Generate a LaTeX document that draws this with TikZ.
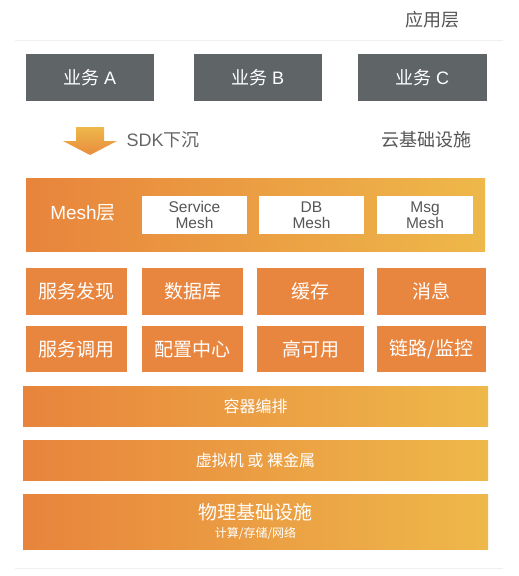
\documentclass[tikz,border=0pt]{standalone}
\usepackage{fontspec}
\setmainfont{Noto Sans CJK SC}
\newfontfamily\lat{Liberation Sans}
\usepackage{tikz}
\definecolor{bizgray}{HTML}{5F6466}
\definecolor{meshorange}{HTML}{E8843C}
\definecolor{meshyellow}{HTML}{EEB84A}
\definecolor{comporange}{HTML}{E8853E}
\definecolor{labelgray}{HTML}{555555}

\begin{document}
\begin{tikzpicture}
	[x=1pt, y=-1pt, align=center, text=white,
	biz/.style ={rectangle, fill=bizgray, minimum width=128pt, minimum height=47pt, font=\fontsize{18}{20}\selectfont},
	meshbox/.style ={rectangle, fill=white, text=labelgray, minimum width=105pt, minimum height=38pt, font=\lat\fontsize{15.5}{16}\selectfont},
	comp/.style ={rectangle, fill=comporange, minimum height=47pt, font=\fontsize{19}{21}\selectfont},
	band/.style ={rectangle, left color=meshorange, right color=meshyellow, minimum width=465pt, minimum height=40pt, font=\fontsize{16}{18}\selectfont},
	caption/.style ={text=labelgray, font=\fontsize{18}{20}\selectfont}];
	\useasboundingbox (0,0) rectangle (519,576);
	% faint separators
	\draw [gray!12] (15,40) -- (503,40);
	\draw [gray!12] (15,568) -- (503,568);
	% application layer
	\node [caption] (app) at (432,20) {应用层};
	\node [biz] (bizA) at (90,77.5) {业务 {\lat A}};
	\node [biz] (bizB) at (258,77.5) {业务 {\lat B}};
	\node [biz, minimum width=129pt] (bizC) at (422.5,77.5) {业务 {\lat C}};
	% SDK sinking
	\shade [top color=meshyellow, bottom color=meshorange!85!meshyellow]
		(76,127) -- (104,127) -- (104,141) -- (117,141) -- (90,155) -- (63,141) -- (76,141) -- cycle;
	\node [caption, text=labelgray!90, anchor=west] (sdk) at (123,140) {{\lat SDK}下沉};
	\node [caption] (cloud) at (426,140) {云基础设施};
	% mesh layer
	\node [rectangle, left color=meshorange, right color=meshyellow, minimum width=459pt, minimum height=73pt] (mesh) at (255.5,214.5) {};
	\node [font=\fontsize{19}{21}\selectfont] (meshlabel) at (83,213) {{\lat Mesh}层};
	\node [meshbox] (svcmesh) at (194.5,215) {Service\\Mesh};
	\node [meshbox] (dbmesh) at (311.5,215) {DB\\Mesh};
	\node [meshbox, minimum width=96pt] (msgmesh) at (425,215) {Msg\\Mesh};
	% components
	\node [comp, minimum width=101pt] (discovery) at (76.5,291.5) {服务发现};
	\node [comp, minimum width=101pt] (database) at (192.5,291.5) {数据库};
	\node [comp, minimum width=107pt] (cache) at (310.5,291.5) {缓存};
	\node [comp, minimum width=109pt] (message) at (431.5,291.5) {消息};
	\node [comp, minimum width=101pt, minimum height=46pt] (invoke) at (76.5,349) {服务调用};
	\node [comp, minimum width=101pt, minimum height=46pt] (config) at (192.5,349) {配置中心};
	\node [comp, minimum width=107pt, minimum height=46pt] (ha) at (310.5,349) {高可用};
	\node [comp, minimum width=109pt, minimum height=46pt] (trace) at (431.5,349) {链路/监控};
	% infrastructure
	\node [band] (container) at (255.5,406) {容器编排};
	\node [band] (vm) at (255.5,460) {虚拟机 或 裸金属};
	\node [band, minimum height=55pt, font=\fontsize{19}{20}\selectfont] (physical) at (255.5,521.5)
		{物理基础设施\\[-2pt]{\fontsize{12}{14}\selectfont 计算/存储/网络}};
\end{tikzpicture}
\end{document}
